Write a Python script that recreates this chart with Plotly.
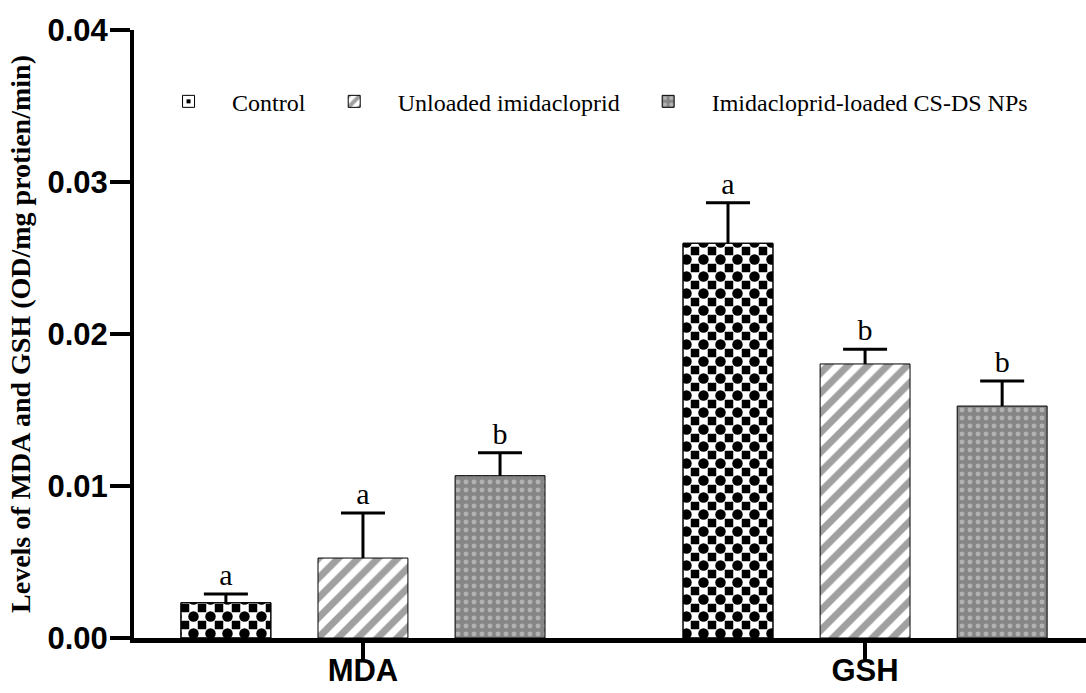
import plotly.graph_objects as go

categories = ["MDA", "GSH"]
series_names = ["Control", "Unloaded imidacloprid", "Imidacloprid-loaded CS-DS NPs"]
control_mean = [0.00232, 0.02597]
control_sd = [0.00057, 0.00267]
unloaded_mean = [0.00526, 0.01803]
unloaded_sd = [0.00296, 0.00096]
loaded_mean = [0.01068, 0.01526]
loaded_sd = [0.00151, 0.00165]
control_letters = ["a", "a"]
unloaded_letters = ["a", "b"]
loaded_letters = ["b", "b"]
y_ticks = [0.0, 0.01, 0.02, 0.03, 0.04]

SERIF = "Liberation Serif"
SANS = "Liberation Sans"

fig = go.Figure()

outline = dict(color="black", width=1)


def stem(sd):
    # upward-only error line, caps drawn by the letter traces
    return dict(type="data", symmetric=False, array=sd, arrayminus=[0] * len(sd),
                color="black", thickness=3, width=0)


# Control: checkerboard = inverted '+' (black squares at tile corners) + black dots at tile centres
fig.add_trace(go.Bar(
    x=categories, y=control_mean, name=series_names[0], offsetgroup="c",
    marker=dict(color="white", line=outline,
                pattern=dict(shape="+", fgcolor="white", bgcolor="black", fgopacity=1,
                             size=17, solidity=0.75, fillmode="overlay")),
    error_y=stem(control_sd),
))
fig.add_trace(go.Bar(
    x=categories, y=unloaded_mean, name=series_names[1], offsetgroup="u",
    marker=dict(color="white", line=outline,
                pattern=dict(shape="/", fgcolor="#a0a0a0", bgcolor="white", fgopacity=1,
                             size=14, solidity=0.5, fillmode="overlay")),
    error_y=stem(unloaded_sd),
))
fig.add_trace(go.Bar(
    x=categories, y=loaded_mean, name=series_names[2], offsetgroup="l",
    marker=dict(color="#868686", line=outline,
                pattern=dict(shape=".", fgcolor="#b2b2b2", bgcolor="#858585", fgopacity=1,
                             size=8, solidity=0.3, fillmode="overlay")),
    error_y=stem(loaded_sd),
))
# second layer of the checkerboard
fig.add_trace(go.Bar(
    x=categories, y=control_mean, offsetgroup="c", showlegend=False, hoverinfo="skip",
    marker=dict(color="rgba(0,0,0,0)", line=outline,
                pattern=dict(shape=".", fgcolor="black", bgcolor="rgba(0,0,0,0)", fgopacity=1,
                             size=17, solidity=0.3, fillmode="replace")),
))

# significance letters + error caps on invisible bars reaching the top of the error bars
for grp, means, sds, letters in [("c", control_mean, control_sd, control_letters),
                                 ("u", unloaded_mean, unloaded_sd, unloaded_letters),
                                 ("l", loaded_mean, loaded_sd, loaded_letters)]:
    fig.add_trace(go.Bar(
        x=categories, y=[m + s for m, s in zip(means, sds)], offsetgroup=grp,
        showlegend=False, hoverinfo="skip", text=letters, textposition="outside",
        cliponaxis=False,
        textfont=dict(family=SERIF, size=30, color="black"),
        marker=dict(color="rgba(0,0,0,0)", line=dict(width=0)),
        error_y=dict(type="data", array=[0] * len(sds), color="black", thickness=3, width=22),
    ))

fig.update_layout(
    width=1086, height=693,
    margin=dict(l=134, r=0, t=30, b=55),
    paper_bgcolor="white", plot_bgcolor="white",
    barmode="group", bargap=0.181, bargroupgap=0.344,
    showlegend=True,
    legend=dict(orientation="h", x=0.0116, y=0.882, xanchor="left", yanchor="middle",
                font=dict(family=SERIF, size=24, color="black"),
                bgcolor="rgba(0,0,0,0)", itemwidth=77, traceorder="normal"),
    xaxis=dict(range=[-0.456, 1.44], showline=True, linecolor="black", linewidth=5,
               ticks="outside", ticklen=18, tickwidth=4, tickcolor="black",
               ticklabelstandoff=-17,
               tickfont=dict(family=SANS, size=31, color="black", weight="bold"),
               showgrid=False, zeroline=False, automargin=False),
    yaxis=dict(range=[0, 0.04], tickvals=y_ticks, tickformat=".2f",
               showline=True, linecolor="black", linewidth=4,
               ticks="outside", ticklen=20, tickwidth=4, tickcolor="black",
               ticklabelstandoff=-4,
               tickfont=dict(family=SANS, size=31, color="black", weight="bold"),
               showgrid=False, zeroline=False, automargin=False,
               title=dict(text="Levels of MDA and GSH (OD/mg protien/min)",
                          font=dict(family=SERIF, size=28, color="black", weight="bold"),
                          standoff=10)),
)

fig.write_html("out.html")
